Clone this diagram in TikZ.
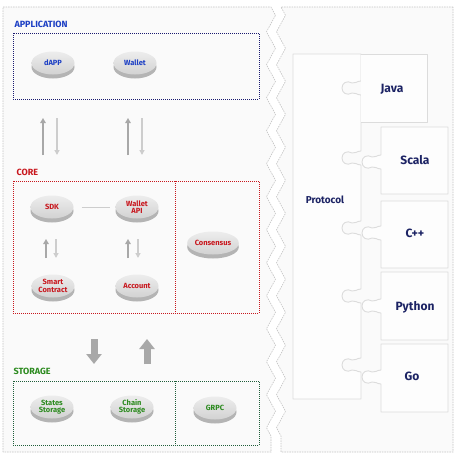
\documentclass[tikz,border=0pt]{standalone}
\usepackage{fontspec}
\setmainfont{Fira Sans}
\usetikzlibrary{arrows.meta,decorations.pathmorphing,shadows,shapes.geometric}
\definecolor{panelline}{HTML}{C4C4C4}
\definecolor{panelfill}{HTML}{FAFAFA}
\definecolor{appblue}{HTML}{1C3FC4}
\definecolor{appnavy}{HTML}{1A1A70}
\definecolor{corered}{HTML}{C8161D}
\definecolor{storgreen}{HTML}{2B8A1E}
\definecolor{storbox}{HTML}{1F5E3A}
\definecolor{navy}{HTML}{1C2364}
\definecolor{diskhi}{HTML}{EDEDED}
\definecolor{disklo}{HTML}{D2D2D2}
\definecolor{diskside}{HTML}{B4B4B4}
\definecolor{arrdark}{HTML}{A8A8A8}
\definecolor{arrlight}{HTML}{CDCDCD}
\definecolor{pieceline}{HTML}{DCDCDC}
\definecolor{piecefill}{HTML}{FDFDFD}
\newcommand\knob[2]{-- (#1,#2-7) .. controls (#1-4,#2-7) and (#1-6,#2-4) .. (#1-9,#2-5) .. controls (#1-14,#2-8) and (#1-19,#2-5) .. (#1-19,#2) .. controls (#1-19,#2+5) and (#1-14,#2+8) .. (#1-9,#2+5) .. controls (#1-6,#2+4) and (#1-4,#2+7) .. (#1,#2+7)}
\begin{document}
\begin{tikzpicture}[x=1pt,y=-1pt,
  panel/.style={draw=panelline, fill=panelfill, line width=0.6pt, dash pattern=on 1.5pt off 1pt},
  zz/.style={decoration={zigzag, segment length=33pt, amplitude=4.5pt}},
  disk/.style={ellipse, minimum width=43pt, minimum height=23pt, inner sep=0pt, align=center,
    top color=diskhi, bottom color=disklo,
    general shadow={fill=diskside, shadow yshift=-4pt},
    font=\fontsize{7.5}{7.5}\selectfont\bfseries},
  sect/.style={anchor=west, font=\fontsize{9}{10}\selectfont\bfseries},
  dbox/.style={line width=0.8pt, dash pattern=on 1pt off 1pt},
  upA/.style={line width=1.8pt, draw=arrdark, -{Triangle[width=5.5pt,length=5pt]}},
  downA/.style={line width=1.2pt, draw=arrlight, -{Triangle[width=5pt,length=5pt]}},
  blockA/.style={line width=7pt, draw=#1, -{Triangle[width=15pt,length=10pt]}},
  piece/.style={draw=pieceline, fill=piecefill, line width=0.9pt, line join=round},
  ptext/.style={text=navy, font=\fontsize{12}{14}\selectfont\bfseries}
]
\useasboundingbox (0,0) rectangle (467,463);
\fill[white] (0,0) rectangle (467,463);
% panels
\path[panel] (3,452) -- (3,7) -- (271,7) decorate[zz]{-- (271,452)} -- cycle;
\path[panel] (453,7) -- (281,7) decorate[zz]{-- (281,452)} -- (453,452) -- cycle;

% APPLICATION
\node[sect, text=appblue] (applbl) at (11,24) {APPLICATION};
\draw[dbox, draw=appnavy] (13,33) rectangle (259,99);
\node[disk, text=appblue] (dapp) at (53,63) {dAPP};
\node[disk, text=appblue] (wallet) at (135,63) {Wallet};

% arrows app <-> core
\coordinate (a1b) at (43,155); \coordinate (a1t) at (43,118);
\coordinate (a2t) at (57,118); \coordinate (a2b) at (57,155);
\coordinate (a3b) at (128,155); \coordinate (a3t) at (128,118);
\coordinate (a4t) at (142,118); \coordinate (a4b) at (142,155);
\draw[upA] (a1b) -- (a1t);
\draw[downA] (a2t) -- (a2b);
\draw[upA] (a3b) -- (a3t);
\draw[downA] (a4t) -- (a4b);

% CORE
\node[sect, text=corered] (corelbl) at (13,172) {CORE};
\draw[dbox, draw=corered] (13,181) rectangle (259,313);
\draw[dbox, draw=corered] (175,181) -- (175,313);
\node[disk, text=corered] (sdk) at (52,207) {SDK};
\node[disk, text=corered] (wapi) at (137,207) {Wallet\\API};
\draw[draw=arrlight, line width=0.8pt, shorten <=8pt, shorten >=5pt] (sdk) -- (wapi);
\node[disk, text=corered] (sc) at (53,286) {Smart\\Contract};
\node[disk, text=corered] (acct) at (137,286) {Account};
\node[disk, text=corered] (cons) at (213,243) {Consensus};
\coordinate (c1b) at (46,258); \coordinate (c1t) at (46,239);
\coordinate (c2t) at (56,239); \coordinate (c2b) at (56,258);
\coordinate (c3b) at (128,258); \coordinate (c3t) at (128,239);
\coordinate (c4t) at (138,239); \coordinate (c4b) at (138,258);
\draw[upA] (c1b) -- (c1t);
\draw[downA] (c2t) -- (c2b);
\draw[upA] (c3b) -- (c3t);
\draw[downA] (c4t) -- (c4b);

% storage arrows
\coordinate (s1t) at (94,339); \coordinate (s1b) at (94,364);
\coordinate (s2b) at (147,364); \coordinate (s2t) at (147,339);
\draw[blockA=arrdark] (s1t) -- (s1b);
\draw[blockA=arrdark] (s2b) -- (s2t);

% STORAGE
\node[sect, text=storgreen] (storlbl) at (10,371) {STORAGE};
\draw[dbox, draw=storbox] (13,381) rectangle (259,445);
\draw[dbox, draw=storbox] (175,381) -- (175,445);
\node[disk, text=storgreen] (ss) at (52,407) {States\\Storage};
\node[disk, text=storgreen] (cs) at (132,407) {Chain\\Storage};
\node[disk, text=storgreen] (grpc) at (215,408) {GRPC};

% puzzle
\draw[piece] (293,54) -- (361,54) \knob{361}{88} \knob{361}{158} \knob{361}{228} \knob{361}{296} \knob{361}{365} -- (361,399) -- (293,399) -- cycle;
\draw[piece] (361,54) -- (427,54) -- (427,122) -- (361,122);
\draw[piece] (448,127) -- (381,127) \knob{381}{162} -- (381,194) -- (448,194) -- cycle;
\draw[piece] (448,201) -- (381,201) \knob{381}{233} -- (381,268) -- (448,268) -- cycle;
\draw[piece] (448,272) -- (381,272) \knob{381}{306} -- (381,340) -- (448,340) -- cycle;
\draw[piece] (448,344) -- (381,344) \knob{381}{377} -- (381,412) -- (448,412) -- cycle;
\node[ptext, font=\fontsize{10}{12}\selectfont\bfseries] (protocol) at (325,200) {Protocol};
\node[ptext] (java) at (392,89) {Java};
\node[ptext] (scala) at (415,160) {Scala};
\node[ptext] (cpp) at (415,233) {C++};
\node[ptext] (python) at (415,307) {Python};
\node[ptext] (go) at (412,376) {Go};
\end{tikzpicture}
\end{document}
